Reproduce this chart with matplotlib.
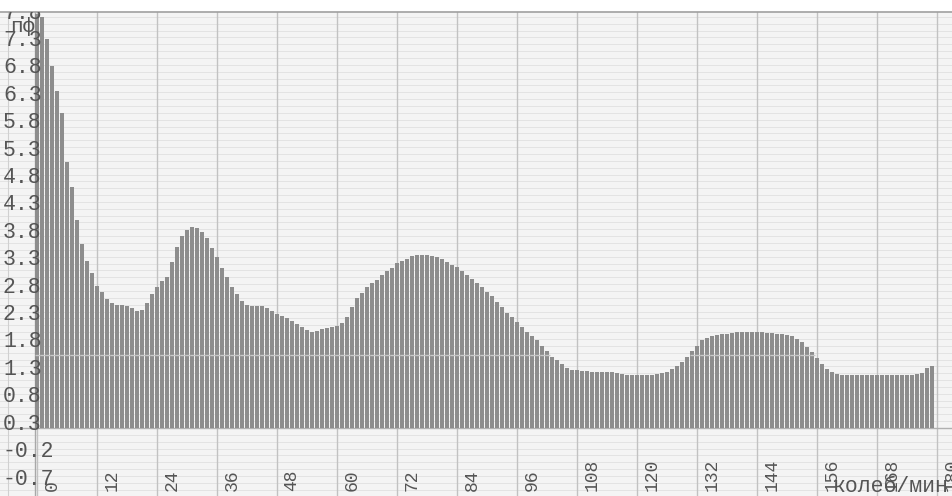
import numpy as np
import matplotlib.pyplot as plt

# spectrum amplitude per 1 beat/min bin, 0..179
AMPLITUDE = [
    7.85, 7.8, 7.4, 6.9, 6.45, 6.05, 5.15, 4.7, 4.1, 3.65,
    3.35, 3.13, 2.9, 2.78, 2.66, 2.58, 2.55, 2.54, 2.52, 2.49,
    2.44, 2.45, 2.58, 2.75, 2.88, 2.98, 3.05, 3.33, 3.6, 3.8,
    3.92, 3.96, 3.95, 3.88, 3.76, 3.58, 3.42, 3.22, 3.05, 2.87,
    2.75, 2.62, 2.55, 2.53, 2.53, 2.52, 2.49, 2.43, 2.38, 2.35,
    2.31, 2.25, 2.2, 2.15, 2.09, 2.05, 2.07, 2.1, 2.13, 2.15,
    2.17, 2.22, 2.33, 2.5, 2.67, 2.76, 2.87, 2.94, 3.0, 3.1,
    3.17, 3.22, 3.31, 3.34, 3.38, 3.43, 3.45, 3.46, 3.46, 3.44,
    3.42, 3.38, 3.33, 3.28, 3.24, 3.17, 3.09, 3.02, 2.95, 2.87,
    2.78, 2.7, 2.6, 2.5, 2.4, 2.32, 2.24, 2.14, 2.05, 1.98,
    1.9, 1.8, 1.7, 1.6, 1.54, 1.47, 1.4, 1.36, 1.35, 1.34,
    1.34, 1.33, 1.33, 1.33, 1.33, 1.32, 1.3, 1.28, 1.27, 1.27,
    1.27, 1.27, 1.27, 1.27, 1.28, 1.3, 1.33, 1.37, 1.44, 1.5,
    1.6, 1.7, 1.8, 1.9, 1.95, 1.98, 2.0, 2.01, 2.02, 2.04,
    2.05, 2.05, 2.05, 2.05, 2.05, 2.05, 2.04, 2.03, 2.02, 2.01,
    2.0, 1.97, 1.93, 1.87, 1.78, 1.68, 1.57, 1.47, 1.38, 1.32,
    1.29, 1.27, 1.27, 1.27, 1.27, 1.27, 1.27, 1.27, 1.27, 1.27,
    1.27, 1.27, 1.27, 1.27, 1.27, 1.27, 1.29, 1.31, 1.39, 1.44,
]
BASELINE = 0.3
X_TICKS = [0, 12, 24, 36, 48, 60, 72, 84, 96, 108, 120, 132, 144, 156, 168, 180]
Y_TICKS = [7.8, 7.3, 6.8, 6.3, 5.8, 5.3, 4.8, 4.3, 3.8, 3.3, 2.8, 2.3, 1.8,
           1.3, 0.8, 0.3, -0.2, -0.7]
Y_UNIT = "пф"
X_UNIT = "колеб/мин"

MONO = "Liberation Mono"
INK = "#555555"

amp = np.array(AMPLITUDE)
bpm = np.arange(len(amp))

fig = plt.figure(figsize=(9.53, 4.96), dpi=100)
fig.patch.set_facecolor("white")
ax = fig.add_axes([0, 0, 1, (496 - 12) / 496])
ax.set_facecolor("#f4f4f4")
ax.set_xlim(-7.4, 183.2)
ax.set_ylim(-0.94, 7.89)
ax.set_xticks([])
ax.set_yticks([])
for side in ("left", "right", "bottom"):
    ax.spines[side].set_visible(False)
ax.spines["top"].set_color("#a0a0a0")
ax.spines["top"].set_linewidth(1.2)

# chart paper: fine horizontal rulings, vertical lines every 12 beats
for yv in np.arange(-0.95, 7.9, 0.125):
    ax.axhline(yv, color="#e3e3e3", lw=0.7, zorder=0)
for xv in X_TICKS:
    ax.axvline(xv, color="#c2c2c2", lw=1.0, zorder=0)
ax.axvline(-5.8, color="#d0d0d0", lw=0.8, zorder=0)
ax.axvline(-0.4, color="#a8a8a8", lw=1.0, zorder=0)
ax.axhline(BASELINE, color="#b0b0b0", lw=1.0, zorder=1)

# spectrum bars
ax.bar(bpm, amp - BASELINE, bottom=BASELINE, width=0.78, color="#8d8d8d",
       linewidth=0, zorder=2)
tall = amp > 1.63
ax.hlines(np.full(tall.sum(), 1.63), bpm[tall] - 0.5, bpm[tall] + 0.5,
          color="#c8c8c8", lw=1.0, zorder=3)

# y labels, drawn on the paper and clipped at the top edge
for yv in Y_TICKS:
    ax.text(-6.8, yv + 0.07, f"{yv:.1f}", fontsize=15.5, family=MONO,
            color=INK, ha="left", va="center", clip_on=True, zorder=4)
ax.text(-5.4, 7.62, Y_UNIT, fontsize=15, family=MONO, color=INK,
        ha="left", va="center", zorder=4)

# x labels, rotated and written upward from the bottom edge
for xv in X_TICKS:
    ax.text(xv + 3.0, -0.85, str(xv), fontsize=13, family=MONO, color=INK,
            rotation=90, rotation_mode="anchor", ha="left", va="center",
            zorder=4)
ax.text(159.2, -0.86, X_UNIT, fontsize=15.5, family=MONO, color=INK,
        ha="left", va="baseline", zorder=5)

fig.savefig("out.png", dpi=100)
